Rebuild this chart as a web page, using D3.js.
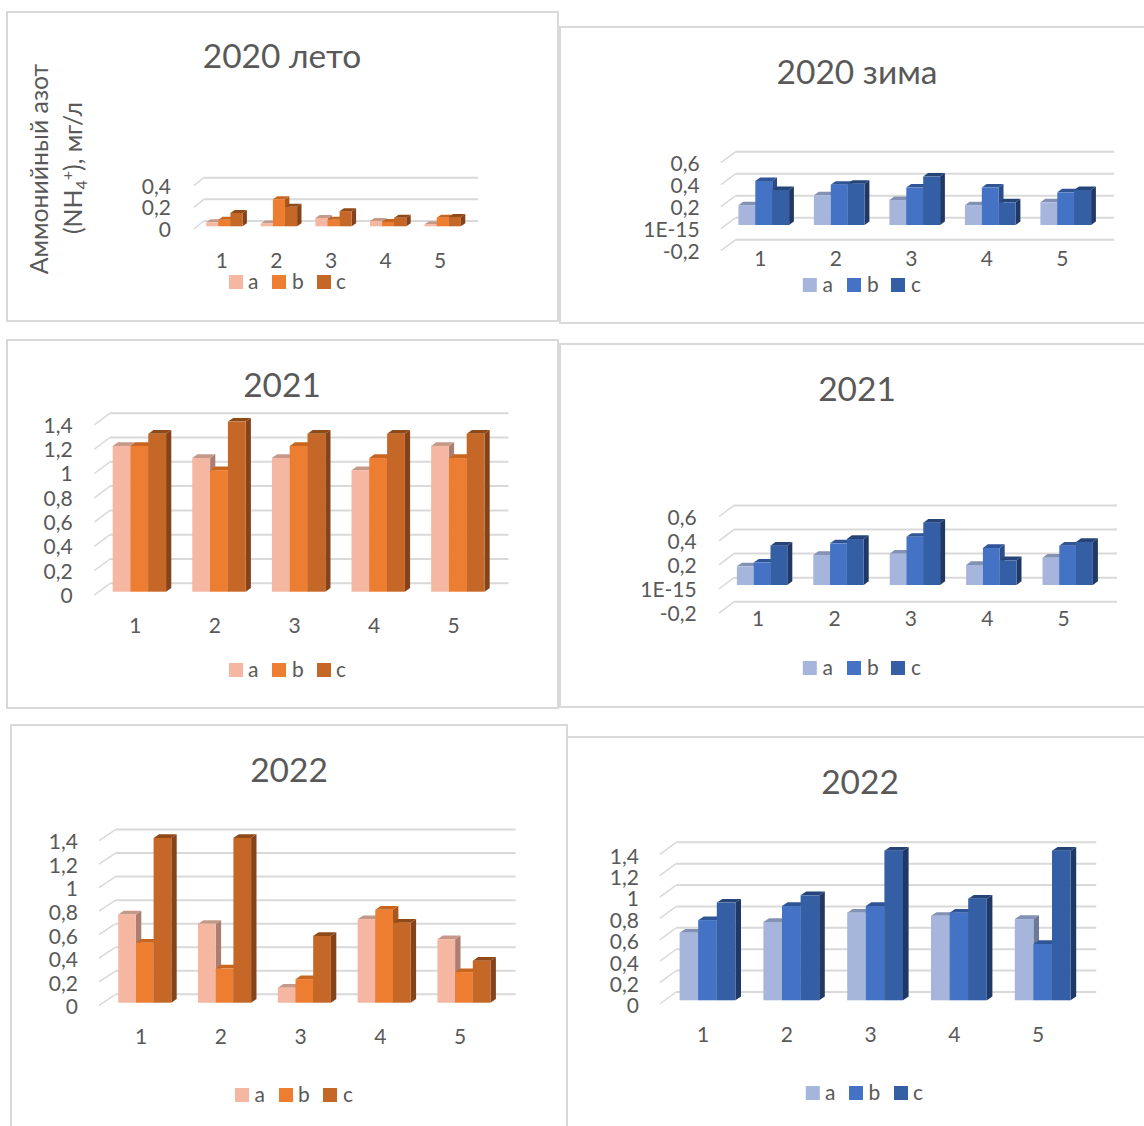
<!DOCTYPE html>
<html>
<head>
<meta charset="utf-8">
<script src="https://cdn.jsdelivr.net/npm/d3@7"></script>
<style>
  html, body { margin: 0; padding: 0; background: #fff; overflow: hidden; }
  svg { display: block; }
  text { font-family: Lato, "Noto Sans", sans-serif; fill: #595959; }
</style>
</head>
<body>
<script>
// Ammonium nitrogen, mg/L, per station (1-5) and series (a, b, c)
const stations = ["1", "2", "3", "4", "5"];
const seriesNames = ["a", "b", "c"];

const summer2020a = [0.037, 0.025, 0.077, 0.05, 0.02];
const summer2020b = [0.06, 0.25, 0.06, 0.04, 0.08];
const summer2020c = [0.123, 0.18, 0.14, 0.08, 0.087];

const winter2020a = [0.18, 0.27, 0.227, 0.18, 0.206];
const winter2020b = [0.4, 0.367, 0.34, 0.34, 0.297];
const winter2020c = [0.318, 0.376, 0.44, 0.206, 0.318];

const summer2021a = [1.2, 1.1, 1.1, 1.0, 1.2];
const summer2021b = [1.2, 1.0, 1.2, 1.1, 1.1];
const summer2021c = [1.3, 1.4, 1.3, 1.3, 1.3];

const winter2021a = [0.155, 0.25, 0.26, 0.166, 0.227];
const winter2021b = [0.186, 0.346, 0.4, 0.307, 0.327];
const winter2021c = [0.327, 0.382, 0.518, 0.205, 0.357];

const summer2022a = [0.75, 0.67, 0.127, 0.71, 0.54];
const summer2022b = [0.51, 0.29, 0.2, 0.79, 0.26];
const summer2022c = [1.4, 1.4, 0.567, 0.68, 0.357];

const winter2022a = [0.633, 0.733, 0.82, 0.79, 0.76];
const winter2022b = [0.75, 0.882, 0.882, 0.82, 0.527];
const winter2022c = [0.914, 0.982, 1.4, 0.951, 1.4];

const ticksShort = [0, 0.2, 0.4];
const ticksSigned = [-0.2, 0, 0.2, 0.4, 0.6];
const ticksFull = [0, 0.2, 0.4, 0.6, 0.8, 1, 1.2, 1.4];

// Face colours of the extruded bars: front, top, side
const orange = [
  { front: "#F5B7A2", top: "#C4998A", side: "#AA7F71" },
  { front: "#ED7D31", top: "#C8651F", side: "#A9561C" },
  { front: "#C56727", top: "#8F4A17", side: "#84431A" }
];
const blue = [
  { front: "#A6B5DB", top: "#8391B4", side: "#6B7897" },
  { front: "#4472C4", top: "#2F5597", side: "#2A4C88" },
  { front: "#355FA5", top: "#264478", side: "#203864" }
];

const panels = [
  { title: "2020 лето", titleX: 282, titleY: 56, frame: [7, 12, 558, 321],
    values: [summer2020a, summer2020b, summer2020c], colors: orange, ticks: ticksShort,
    gridL: 203.6, gridR: 478, diagDx: 9.6, diagDy: 8, base: 226.3, back0: 221, unit: 108.3,
    barLeft: 206.2, bw: 12.1, sideDx: 4.4, sideDy: 3, catX: 221.8, step: 54.6, catY: 261, tickX: 171, labelDy: 0,
    legY: 282, legSwatch: [229, 272, 317], legText: [248, 292, 336] },
  { title: "2020 зима", titleX: 857, titleY: 72, frame: [560, 27, 1160, 323],
    values: [winter2020a, winter2020b, winter2020c], colors: blue, ticks: ticksSigned,
    gridL: 735.8, gridR: 1114.2, diagDx: 14.9, diagDy: 11, base: 225, back0: 217.7, unit: 110,
    barLeft: 738.4, bw: 16.9, sideDx: 4.8, sideDy: 3.5, catX: 760.4, step: 75.5, catY: 259, tickX: 699.7, labelDy: 0,
    legY: 285, legSwatch: [802.8, 847, 891], legText: [822.6, 867, 911] },
  { title: "2021", titleX: 282, titleY: 385, frame: [7, 340, 558, 708],
    values: [summer2021a, summer2021b, summer2021c], colors: orange, ticks: ticksFull,
    gridL: 110, gridR: 508.4, diagDx: 15.6, diagDy: 11.7, base: 591.7, back0: 583.3, unit: 121.5,
    barLeft: 112.7, bw: 17.8, sideDx: 5.2, sideDy: 3.7, catX: 135.3, step: 79.6, catY: 625.7, tickX: 72.7, labelDy: 0,
    legY: 670, legSwatch: [229, 272, 317], legText: [248, 292, 336] },
  { title: "2021", titleX: 857, titleY: 389, frame: [560, 344, 1160, 707],
    values: [winter2021a, winter2021b, winter2021c], colors: blue, ticks: ticksSigned,
    gridL: 733.9, gridR: 1117, diagDx: 14.9, diagDy: 11.3, base: 585, back0: 577.7, unit: 120.4,
    barLeft: 736.9, bw: 16.8, sideDx: 5, sideDy: 3.7, catX: 758.1, step: 76.4, catY: 619, tickX: 696.7, labelDy: 0,
    legY: 668, legSwatch: [802.8, 847, 891], legText: [822.6, 867, 911] },
  { title: "2022", titleX: 289, titleY: 770, frame: [11, 725, 567, 1160],
    values: [summer2022a, summer2022b, summer2022c], colors: orange, ticks: ticksFull,
    gridL: 115.6, gridR: 515.6, diagDx: 16.6, diagDy: 11, base: 1002.7, back0: 994.3, unit: 117.7,
    barLeft: 118.2, bw: 17.7, sideDx: 5.4, sideDy: 3.7, catX: 141, step: 79.8, catY: 1036.7, tickX: 78, labelDy: 1,
    legY: 1095, legSwatch: [235, 279, 323], legText: [254.5, 298, 343] },
  { title: "2022", titleX: 860, titleY: 782, frame: [567, 737, 1160, 1160],
    values: [winter2022a, winter2022b, winter2022c], colors: blue, ticks: ticksFull,
    gridL: 676.2, gridR: 1096.3, diagDx: 16.4, diagDy: 12, base: 1000.3, back0: 992, unit: 106.9,
    barLeft: 679.6, bw: 18.6, sideDx: 5.6, sideDy: 3.7, catX: 703, step: 83.8, catY: 1035, tickX: 639, labelDy: 1.5,
    legY: 1093, legSwatch: [805.8, 849, 894], legText: [825, 868.4, 913] }
];

const svg = d3.select("body").append("svg").attr("width", 1144).attr("height", 1126);
const poly = pts => pts.map(p => p.join(",")).join(" ");

const formatTick = (signed) => v => {
  if (signed && v === 0) return "1E-15";
  return String(v).replace(".", ",");
};

panels.forEach(p => {
  const g = svg.append("g");
  const [fx0, fy0, fx1, fy1] = p.frame;
  g.append("rect").attr("x", fx0).attr("y", fy0)
    .attr("width", fx1 - fx0).attr("height", fy1 - fy0)
    .attr("fill", "#fff").attr("stroke", "#d9d9d9").attr("stroke-width", 2);

  g.append("text").attr("x", p.titleX).attr("y", p.titleY).attr("dy", "0.35em")
    .attr("text-anchor", "middle").style("font-size", "33.5px").text(p.title);

  const lo = d3.min(p.ticks), hi = d3.max(p.ticks);
  // Three value scales for the three depth planes of the box
  const yBar = d3.scaleLinear().domain([lo, hi]).range([p.base - lo * p.unit, p.base - hi * p.unit]);
  const yBack = yBar.copy().range(yBar.range().map(r => r - (p.base - p.back0)));
  const yFront = yBack.copy().range(yBack.range().map(r => r + p.diagDy + p.labelDy));

  // Back wall gridlines and the floor-side diagonals
  const grid = g.append("g");
  p.ticks.forEach(t => {
    grid.append("line").attr("x1", p.gridL).attr("x2", p.gridR)
      .attr("y1", yBack(t)).attr("y2", yBack(t))
      .attr("stroke", "#d9d9d9").attr("stroke-width", 2);
    grid.append("line").attr("x1", p.gridL).attr("x2", p.gridL - p.diagDx)
      .attr("y1", yBack(t)).attr("y2", yBack(t) + p.diagDy)
      .attr("stroke", "#d9d9d9").attr("stroke-width", 1.5);
  });

  // Value labels
  const yAxis = d3.axisLeft(yFront).tickValues(p.ticks)
    .tickFormat(formatTick(lo < 0)).tickSize(0).tickPadding(0);
  const yG = g.append("g").attr("transform", `translate(${p.tickX},0)`).call(yAxis);
  yG.select(".domain").remove();
  yG.selectAll("text").style("font-size", "21px").attr("dy", "0.35em");

  // Station labels
  const x = d3.scaleBand().domain(stations)
    .range([p.catX - p.step / 2, p.catX + p.step * 4.5]);
  const xAxis = d3.axisBottom(x).tickSize(0).tickPadding(0);
  const xG = g.append("g").attr("transform", `translate(0,${p.catY})`).call(xAxis);
  xG.select(".domain").remove();
  xG.selectAll("text").style("font-size", "21px").attr("y", 0).attr("dy", "0.35em");

  // Bars: each one is a front face with a top and a right side
  const shift = p.barLeft - p.catX;
  const inner = d3.scaleBand().domain(seriesNames).range([0, p.bw * 3]);
  stations.forEach((st, i) => {
    seriesNames.forEach((name, s) => {
      const v = p.values[s][i];
      const left = x(st) + x.bandwidth() / 2 + shift + inner(name);
      const right = left + inner.bandwidth();
      const top = yBar(v), bot = yBar(0);
      const dx = p.sideDx, dy = p.sideDy, c = p.colors[s];
      const bar = g.append("g");
      bar.append("polygon").attr("fill", c.side)
        .attr("points", poly([[right, top], [right + dx, top - dy], [right + dx, bot - dy], [right, bot]]));
      bar.append("polygon").attr("fill", c.top)
        .attr("points", poly([[left, top], [left + dx, top - dy], [right + dx, top - dy], [right, top]]));
      bar.append("rect").attr("fill", c.front)
        .attr("x", left).attr("y", top).attr("width", right - left).attr("height", bot - top);
    });
  });

  // Legend
  seriesNames.forEach((name, s) => {
    g.append("rect").attr("x", p.legSwatch[s]).attr("y", p.legY - 7)
      .attr("width", 14).attr("height", 14).attr("fill", p.colors[s].front);
    g.append("text").attr("x", p.legText[s]).attr("y", p.legY).attr("dy", "0.35em")
      .style("font-size", "21px").text(name);
  });
});

// Shared value-axis title, set on two rotated lines with the ion formula
const axisTitle = svg.append("g").attr("transform", "translate(39,169) rotate(-90)");
axisTitle.append("text").attr("text-anchor", "middle").attr("dy", "0.35em")
  .style("font-size", "24.8px").text("Аммонийный азот");
const formula = svg.append("g").attr("transform", "translate(73,168) rotate(-90)")
  .append("text").attr("text-anchor", "middle").attr("dy", "0.35em").style("font-size", "24.8px");
formula.append("tspan").text("(NH");
formula.append("tspan").attr("dy", 5).style("font-size", "16px").text("4");
formula.append("tspan").attr("dy", -14).style("font-size", "16px").text("+");
formula.append("tspan").attr("dy", 9).text("), мг/л");
</script>
</body>
</html>
